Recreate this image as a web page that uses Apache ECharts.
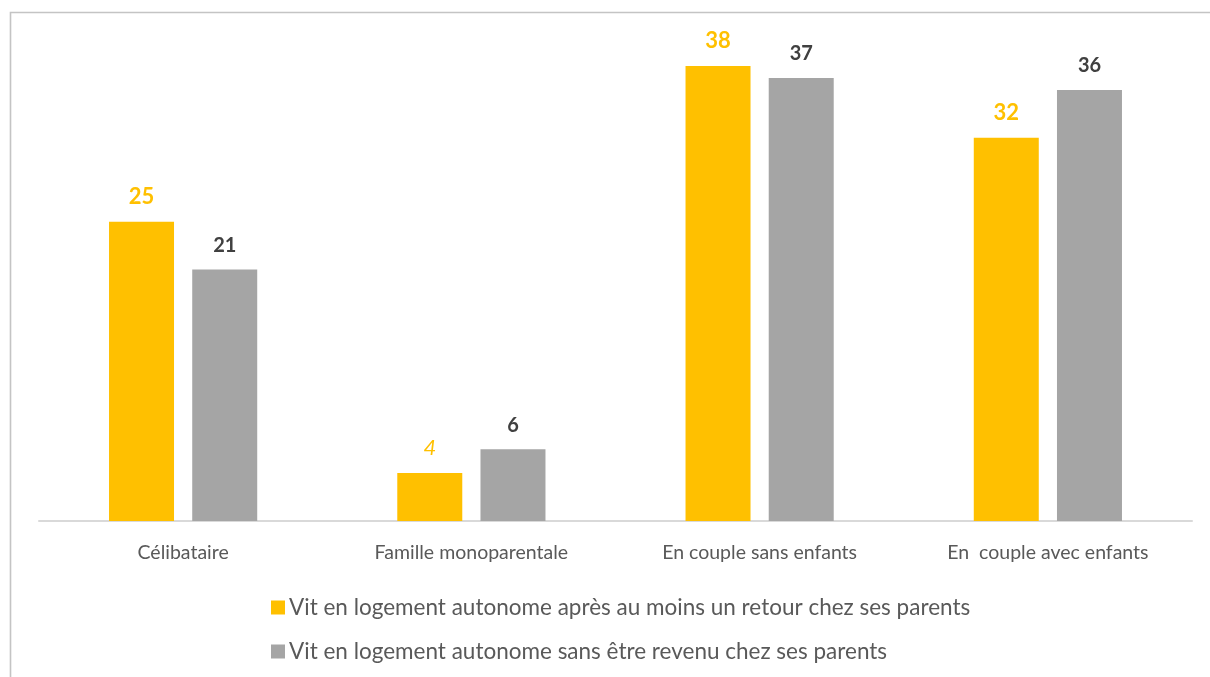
<!DOCTYPE html>
<html>
<head>
<meta charset="utf-8">
<script src="https://cdn.jsdelivr.net/npm/echarts@6/dist/echarts.min.js"></script>
<style>
  html, body { margin: 0; padding: 0; background: #fff; }
  #chart { width: 1210px; height: 677px; }
</style>
</head>
<body>
<div id="chart"></div>
<script>
// Household situation categories
const categories = ['Célibataire', 'Famille monoparentale', 'En couple sans enfants', 'En  couple avec enfants'];
// Share (%) for each group
const seriesNames = [
  'Vit en logement autonome après au moins un retour chez ses parents',
  'Vit en logement autonome sans être revenu chez ses parents'
];
const afterReturn = [25, 4, 38, 32];
const neverReturned = [21, 6, 37, 36];

const YELLOW = '#FFC000';
const GREY = '#A5A5A5';
const FONT = 'Lato, "Open Sans", sans-serif';

const chart = echarts.init(document.getElementById('chart'));

chart.setOption({
  animation: false,
  textStyle: { fontFamily: FONT },
  // frame: left and top edges
  graphic: [{
    type: 'polyline',
    shape: { points: [[10.5, 700], [10.5, 12.5], [1300, 12.5]] },
    style: { fill: 'none', stroke: '#C4C4C4', lineWidth: 1.6 },
    silent: true
  }],
  grid: { left: 39, right: 18, top: 42, bottom: 156 },
  legend: {
    orient: 'vertical',
    left: 266,
    top: 591,
    itemWidth: 14,
    itemHeight: 14,
    itemGap: 21,
    icon: 'rect',
    textStyle: { color: '#595959', fontSize: 22.5, fontFamily: FONT, padding: [0, 0, 0, -1] },
    data: seriesNames
  },
  xAxis: {
    type: 'category',
    data: categories,
    axisLine: { lineStyle: { color: '#D9D9D9', width: 2 } },
    axisTick: { show: false },
    axisLabel: { color: '#595959', fontSize: 19.5, margin: 22, fontFamily: FONT }
  },
  yAxis: {
    type: 'value',
    min: 0,
    max: 40,
    show: false,
    splitLine: { show: false }
  },
  series: [
    {
      name: seriesNames[0],
      type: 'bar',
      barWidth: 65,
      barGap: '28%',
      itemStyle: { color: YELLOW },
      data: afterReturn.map((v, i) => ({
        value: v,
        label: i === 1 ? { fontStyle: 'italic', fontWeight: 'normal' } : {}
      })),
      label: {
        show: true,
        position: 'top',
        distance: 14,
        color: YELLOW,
        fontSize: 22,
        fontWeight: 'bold',
        fontFamily: FONT
      }
    },
    {
      name: seriesNames[1],
      type: 'bar',
      barWidth: 65,
      itemStyle: { color: GREY },
      data: neverReturned,
      label: {
        show: true,
        position: 'top',
        distance: 14,
        color: '#404040',
        fontSize: 20,
        fontWeight: 'bold',
        fontFamily: FONT
      }
    }
  ]
});
</script>
</body>
</html>
